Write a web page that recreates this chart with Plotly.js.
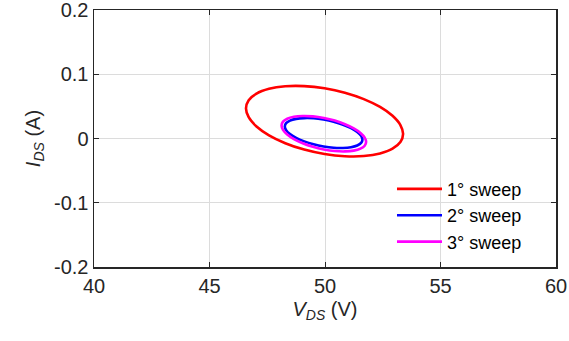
<!DOCTYPE html>
<html><head><meta charset="utf-8">
<script src="https://cdn.plot.ly/plotly-3.0.1.min.js"></script>
<style>body{margin:0;background:#fff}#c{width:569px;height:341px}</style>
</head><body><div id="c"></div>
<script>
const seriesNames = ["1° sweep", "2° sweep", "3° sweep"];
const sweep1V = [53.38, 53.264, 52.924, 52.384, 51.68, 50.86, 49.98, 49.10, 48.28, 47.576, 47.036, 46.696, 46.58, 46.696, 47.036, 47.576, 48.28, 49.10, 49.98, 50.86, 51.68, 52.384, 52.924, 53.264, 53.38];
const sweep1I = [0.007, 0.0209, 0.0353, 0.0491, 0.0613, 0.0713, 0.0782, 0.0816, 0.0813, 0.0773, 0.0699, 0.0596, 0.047, 0.0331, 0.0187, 0.0049, -0.0073, -0.0173, -0.0242, -0.0276, -0.0273, -0.0233, -0.0159, -0.0056, 0.007];
const sweep2V = [51.62, 51.563, 51.395, 51.128, 50.78, 50.375, 49.94, 49.505, 49.10, 48.752, 48.485, 48.317, 48.26, 48.317, 48.485, 48.752, 49.10, 49.505, 49.94, 50.375, 50.78, 51.128, 51.395, 51.563, 51.62];
const sweep2I = [-0.0018, 0.0040, 0.0101, 0.0161, 0.0215, 0.0261, 0.0295, 0.0315, 0.0318, 0.0306, 0.0279, 0.0239, 0.0188, 0.0130, 0.0069, 0.0009, -0.0045, -0.0091, -0.0125, -0.0145, -0.0148, -0.0136, -0.0109, -0.0069, -0.0018];
const sweep3V = [51.78, 51.718, 51.535, 51.244, 50.865, 50.424, 49.95, 49.476, 49.035, 48.656, 48.365, 48.182, 48.12, 48.182, 48.365, 48.656, 49.035, 49.476, 49.95, 50.424, 50.865, 51.244, 51.535, 51.718, 51.78];
const sweep3I = [-0.0053, 0.0015, 0.0087, 0.0158, 0.0223, 0.0279, 0.032, 0.0345, 0.0351, 0.0339, 0.0308, 0.0262, 0.0203, 0.0135, 0.0063, -0.0008, -0.0073, -0.0129, -0.017, -0.0195, -0.0201, -0.0189, -0.0158, -0.0112, -0.0053];
const xTicks = [40, 45, 50, 55, 60];
const yTicks = [-0.2, -0.1, 0, 0.1, 0.2];
const yTickText = ["-0.2", "-0.1", "0", "0.1", "0.2"];

const colors = ["#ff0000", "#0000ff", "#ff00ff"];
const xs = [sweep1V, sweep2V, sweep3V];
const ys = [sweep1I, sweep2I, sweep3I];
const traces = xs.map((x, i) => ({
  x: x, y: ys[i], type: 'scatter', mode: 'lines', name: seriesNames[i],
  line: {color: colors[i], width: 2.6, shape: 'spline', smoothing: 1}
}));

const FONT = 'Liberation Sans, Arial, sans-serif';
const axisCommon = {
  showline: true, mirror: 'ticks', linecolor: '#262626', linewidth: 1.5,
  ticks: 'inside', ticklen: 5, tickcolor: '#262626',
  showgrid: true, gridcolor: '#dcdcdc', gridwidth: 1, zeroline: false,
  ticklabeloverflow: 'allow',
  tickfont: {family: FONT, size: 20, color: '#262626'}
};

const layout = {
  width: 569, height: 341,
  margin: {l: 94, r: 13, t: 10, b: 74},
  paper_bgcolor: '#fff', plot_bgcolor: '#fff',
  showlegend: true,
  xaxis: Object.assign({}, axisCommon, {
    range: [40, 60], tickvals: xTicks, ticktext: xTicks.map(String),
    title: {text: '<i>V</i><sub><i>DS</i></sub> (V)', standoff: 6,
      font: {family: FONT, size: 20, color: '#262626'}}
  }),
  yaxis: Object.assign({}, axisCommon, {
    range: [-0.2001, 0.2001], tickvals: yTicks, ticktext: yTickText,
    title: {text: '<i>I</i><sub><i>DS</i></sub> (A)', standoff: 8,
      font: {family: FONT, size: 20, color: '#262626'}}
  }),
  legend: {
    x: 0.645, y: 0.375, xanchor: 'left', yanchor: 'top',
    bgcolor: 'rgba(0,0,0,0)', borderwidth: 0, itemwidth: 45,
    tracegroupgap: 0,
    font: {family: FONT, size: 18, color: '#000'}
  }
};
Plotly.newPlot('c', traces, layout, {staticPlot: true, displayModeBar: false});
</script></body></html>
